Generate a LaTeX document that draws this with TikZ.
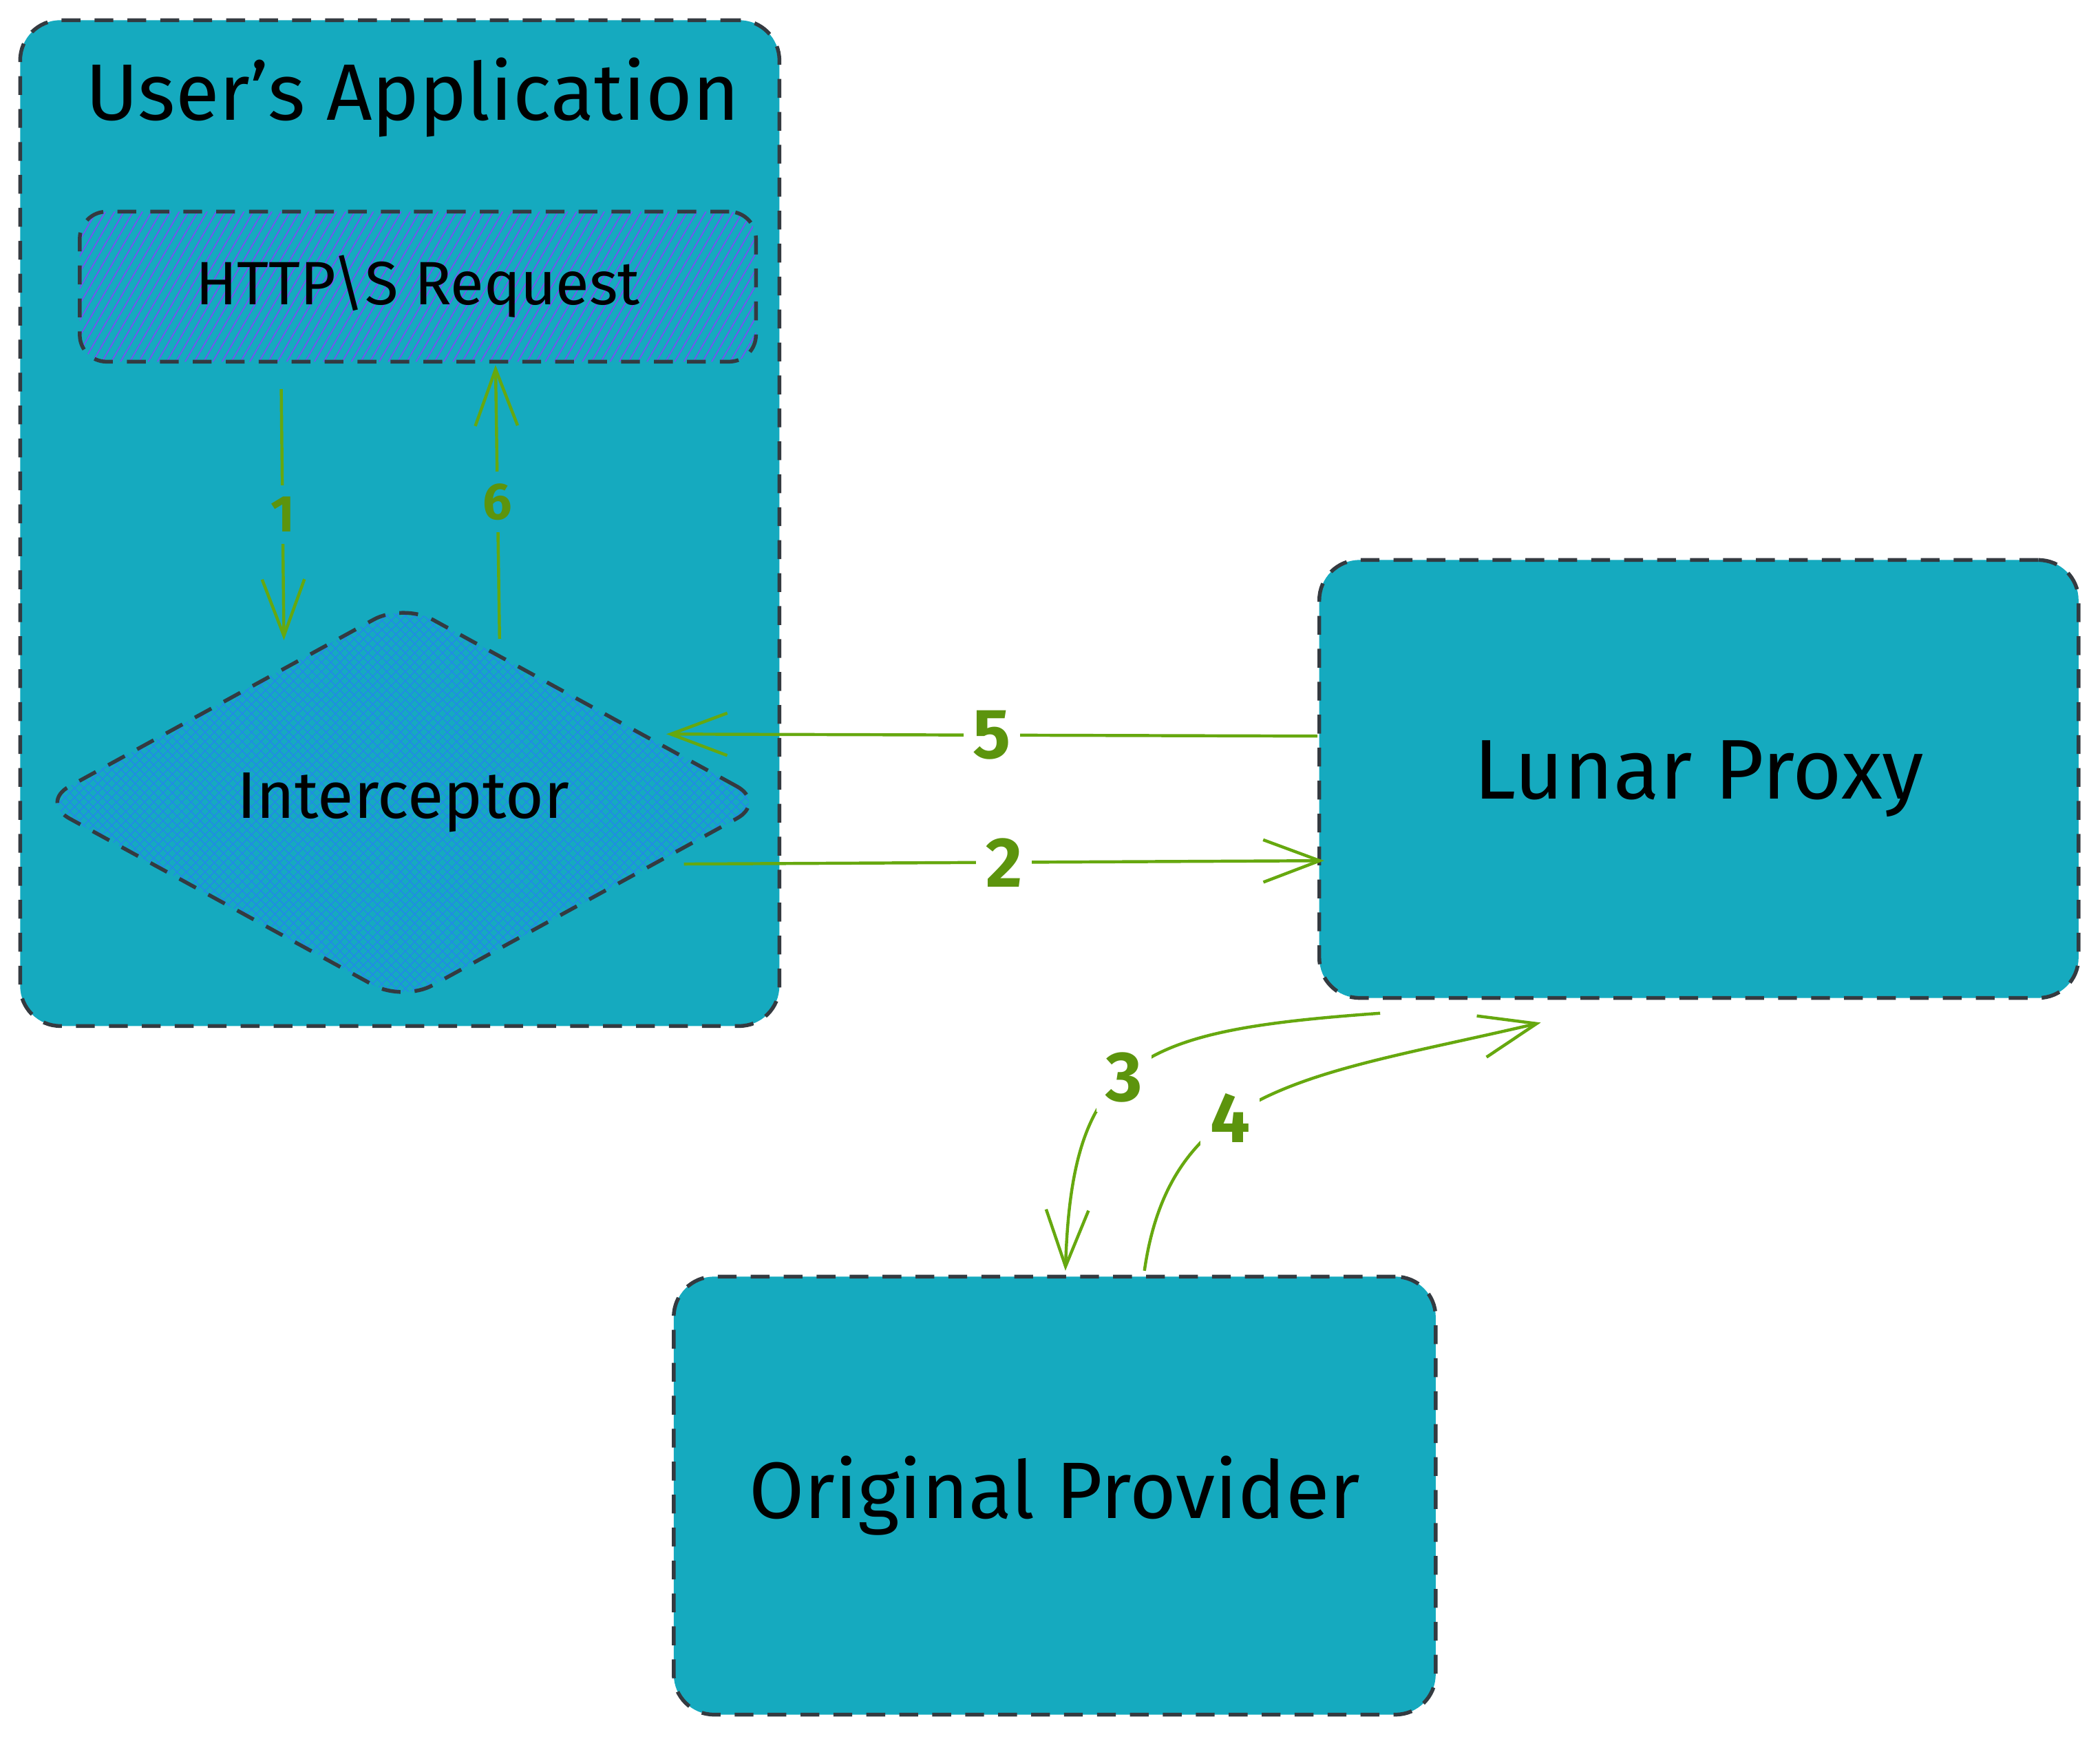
\documentclass[tikz,border=0pt]{standalone}
\usepackage{fontspec}
\setmainfont{Fira Sans}
\usetikzlibrary{shapes.geometric,arrows.meta,patterns.meta,calc}
\definecolor{boxTeal}{HTML}{15AABF}
\definecolor{edgeGrey}{HTML}{343A40}
\definecolor{flowGreen}{HTML}{66A80F}
\definecolor{labelGreen}{HTML}{5C940D}
\definecolor{hatchViolet}{HTML}{7950F2}
\definecolor{hatchBlue}{HTML}{228BE6}

\begin{document}
\begin{tikzpicture}
[x=0.02cm, y=-0.02cm,
  edgeDecorate/.style={draw=edgeGrey, line width=1.6pt, dash pattern=on 8pt off 6pt, inner sep=0pt},
  boxDecorate/.style={edgeDecorate, fill=boxTeal, rounded corners=0.6cm},
  requestDecorate/.style={edgeDecorate, rounded corners=0.4cm, preaction={fill=boxTeal},
    pattern={Lines[angle=60,distance=3.4pt,line width=0.5pt]}, pattern color=hatchViolet},
  interDecorate/.style={edgeDecorate, shape=diamond, aspect=1.85, rounded corners=0.5cm, preaction={fill=boxTeal},
    pattern={Hatch[angle=45,distance=2.8pt,line width=0.45pt]}, pattern color=hatchBlue},
  flowDecorate/.style={draw=flowGreen, line width=1.3pt, -{Straight Barb[length=24pt,width=18pt]}},
  stepOut/.style={text=labelGreen, fill=white, inner sep=4pt, font=\fontsize{30}{30}\selectfont\bfseries},
  stepIn/.style={text=labelGreen, fill=boxTeal, inner sep=5pt, font=\fontsize{22}{22}\selectfont\bfseries}]
\useasboundingbox (0,0) rectangle (1568,1298);
%% boxes
\node (app) at (298.5,390.5) [boxDecorate, minimum width=11.34cm, minimum height=15.02cm] {};
\node (apptitle) at (308,73) {\fontsize{34}{40}\selectfont User’s Application};
\node (http) at (312,214) [requestDecorate, minimum width=10.1cm, minimum height=2.24cm]
  {\fontsize{26}{30}\selectfont HTTP\textbackslash S Request};
\node (diamond) at (301,599) [interDecorate, minimum width=10.85cm, minimum height=5.95cm]
  {\fontsize{28}{32}\selectfont Interceptor};
\node (proxy) at (1268.5,581.5) [boxDecorate, minimum width=11.34cm, minimum height=6.54cm]
  {\fontsize{36}{40}\selectfont Lunar Proxy};
\node (provider) at (787.5,1116.5) [boxDecorate, minimum width=11.38cm, minimum height=6.54cm]
  {\fontsize{34}{40}\selectfont Original Provider};
%% arrow ends
\coordinate (reqOut)    at ($(http.south)+(-102,20)$);
\coordinate (intIn)     at ($(diamond.north)+(-89,28)$);
\coordinate (intUp)     at ($(diamond.north)+(72,27)$);
\coordinate (reqIn)     at ($(http.south)+(58,2)$);
\coordinate (proxyOut)  at ($(proxy.west)+(0,-32)$);
\coordinate (intBack)   at ($(diamond.east)+(-75,-51)$);
\coordinate (intOut)    at ($(diamond.east)+(-62,46)$);
\coordinate (proxyIn)   at ($(proxy.west)+(5,61)$);
\coordinate (proxyDown) at ($(proxy.south)+(-238,10)$);
\coordinate (provIn)    at ($(provider.north)+(8,-3)$);
\coordinate (provOut)   at ($(provider.north)+(67,-3)$);
\coordinate (proxyBack) at ($(proxy.south)+(-118,17)$);
%% straight arrows
\path
\foreach \startnode/\endnode/\steptext/\stepstyle in {
  reqOut/intIn/1/stepIn, intUp/reqIn/6/stepIn,
  proxyOut/intBack/5/stepOut, intOut/proxyIn/2/stepOut}
{
  (\startnode) edge[flowDecorate] node[\stepstyle] {\steptext} (\endnode)
};
%% curved arrows
\draw[flowDecorate] (proxyDown) .. controls +(-180,13) and +(5,-160) .. node[stepOut, pos=0.54] {3} (provIn);
\draw[flowDecorate] (provOut) .. controls +(20,-140) and +(-170,40) .. node[stepOut, pos=0.4] {4} (proxyBack);
\end{tikzpicture}
\end{document}
